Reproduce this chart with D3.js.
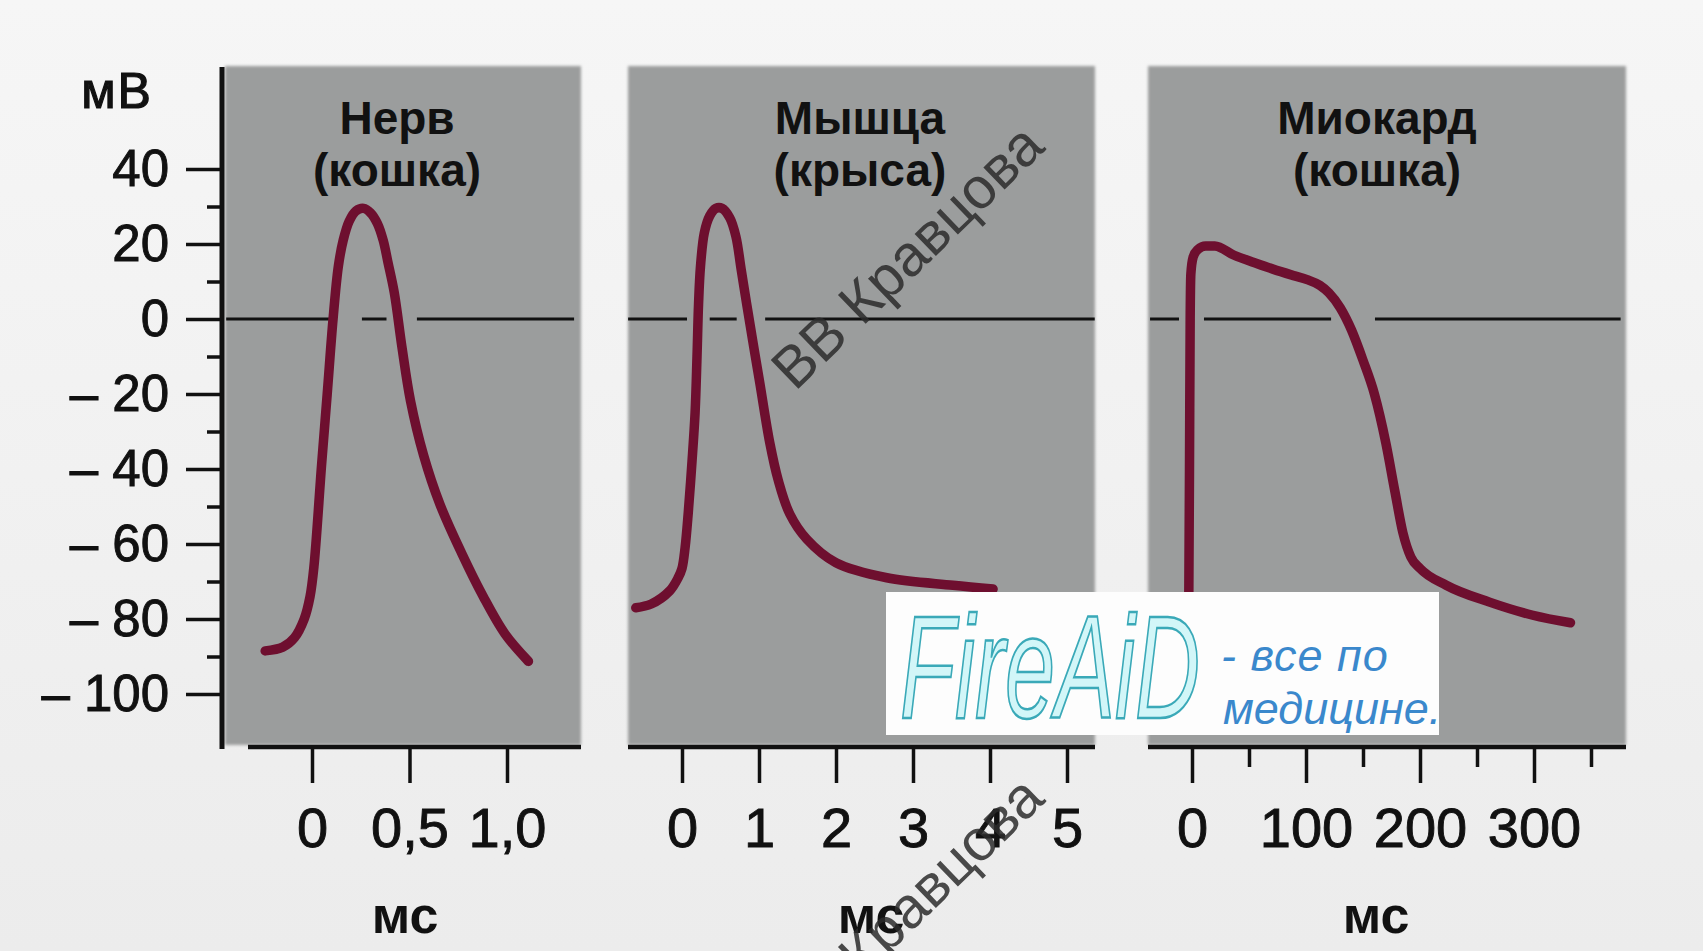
<!DOCTYPE html>
<html><head><meta charset="utf-8">
<script src="https://cdn.jsdelivr.net/npm/d3@7"></script>
<style>html,body{margin:0;padding:0;background:#f0f0f0;} svg{display:block}</style>
</head><body><svg id="c" width="1703" height="951"></svg>
<script>
// ---------------- DATA ----------------
const yTicks = [40, 20, 0, -20, -40, -60, -80, -100];
const yMinorTicks = [30, 10, -10, -30, -50, -70, -90];
const yUnit = "мВ";
const xUnit = "мс";

const panelTitles = [["Нерв", "(кошка)"], ["Мышца", "(крыса)"], ["Миокард", "(кошка)"]];

// Nerve (cat): time in ms, membrane potential in mV
const nerveT = [-0.24, -0.15, -0.09, -0.04, -0.01, 0.01, 0.049, 0.078, 0.108, 0.135, 0.16, 0.19, 0.225, 0.265, 0.30, 0.335, 0.365, 0.39, 0.422, 0.461, 0.505, 0.572, 0.656, 0.767, 0.878, 0.99, 1.11];
const nerveV = [-88.5, -87.5, -85, -80, -74, -66, -39, -20, 0, 14, 21, 26, 28.8, 29.5, 28.3, 25.5, 21, 15, 7, -7.4, -21.8, -36.3, -49.4, -62.4, -74, -84, -91.3];

// Skeletal muscle (rat)
const muscleT = [-0.6, -0.4, -0.16, -0.05, 0.0, 0.04, 0.08, 0.13, 0.17, 0.195, 0.215, 0.24, 0.29, 0.36, 0.44, 0.52, 0.62, 0.70, 0.77, 0.84, 0.92, 1.01, 1.14, 1.25, 1.4, 1.62, 2.0, 2.66, 3.52, 4.04];
const muscleV = [-77, -76, -72.5, -69, -66.5, -61, -52, -38, -25, -10, 4, 14, 23, 27.5, 29.5, 29.5, 27, 22, 13, 4, -6, -17, -33, -43, -52, -58.7, -65, -69, -71, -72];

// Myocardium (cat)
const myoT = [-3, -2.2, -1.6, -1, 1, 5, 12, 20, 37, 55, 71, 90, 101, 112, 120, 130, 140, 150, 160, 170, 178, 185, 192, 200, 223, 261, 299, 332];
const myoV = [-85, -40, 0, 12, 16.5, 18.5, 19.5, 19.5, 17, 15, 13.3, 11.5, 10.5, 9, 7, 3, -3, -11, -20, -33, -46, -57, -63.5, -66.5, -71, -75.5, -79, -81];

// x tick values and labels
const nerveTicks = [0, 0.5, 1.0];
const nerveTickLabels = ["0", "0,5", "1,0"];
const muscleTicks = [0, 1, 2, 3, 4, 5];
const muscleTickLabels = ["0", "1", "2", "3", "4", "5"];
const myoTicks = [0, 100, 200, 300];
const myoTickLabels = ["0", "100", "200", "300"];
const myoMinorTicks = [50, 150, 250, 350];

// zero (0 mV) reference line pieces, in ms
const nerveZero = [[-0.44, 0.087], [0.256, 0.382], [0.538, 1.344]];
const muscleZero = [[-0.70, 0.065], [0.36, 0.71], [1.08, 5.36]];
const myoZero = [[-36.8, -11.4], [10.5, 122], [160.5, 376]];

const watermark = "ВВ Кравцова";
const logoMain = "FireAiD";
const logoLine1 = "- все по";
const logoLine2 = "медицине.";

// ---------------- LAYOUT ----------------
const svg = d3.select("#c");
const FONT = "'Liberation Sans', Arial, sans-serif";
const curveColor = "#6e0f2f";
const panelFill = "#9b9d9d";
const panelTop = 66, panelBottom = 745, axisY = 747;

const y = d3.scaleLinear().domain([-100, 40]).range([694, 169]);

const panels = [
  {t: nerveT, v: nerveV, zero: nerveZero, ticks: nerveTicks, labels: nerveTickLabels, minor: [],
   x: d3.scaleLinear().domain([0, 1]).range([312, 507]), rect: [225, 581], axis: [248, 581], title: panelTitles[0], tcx: 397, ucx: 405,
   curve: d3.curveCatmullRom.alpha(0.5)},
  {t: muscleT, v: muscleV, zero: muscleZero, ticks: muscleTicks, labels: muscleTickLabels, minor: [],
   x: d3.scaleLinear().domain([0, 5]).range([682, 1067]), rect: [628, 1095], axis: [628, 1095], title: panelTitles[1], tcx: 860, ucx: 871,
   curve: d3.curveCatmullRom.alpha(0.5)},
  {t: myoT, v: myoV, zero: myoZero, ticks: myoTicks, labels: myoTickLabels, minor: myoMinorTicks,
   x: d3.scaleLinear().domain([0, 300]).range([1192, 1534]), rect: [1148, 1626], axis: [1148, 1626], title: panelTitles[2], tcx: 1377, ucx: 1376,
   curve: d3.curveMonotoneX}
];

const defs = svg.append("defs");
defs.append("filter").attr("id", "soft").append("feGaussianBlur").attr("stdDeviation", 1.6);
const grad = defs.append("linearGradient").attr("id", "bg").attr("x1", 0).attr("y1", 0).attr("x2", 0).attr("y2", 1);
grad.append("stop").attr("offset", "0").attr("stop-color", "#f6f6f6");
grad.append("stop").attr("offset", "1").attr("stop-color", "#ececec");

// background
svg.append("rect").attr("width", 1703).attr("height", 951).attr("fill", "url(#bg)");

// panels
const gp = svg.append("g").attr("filter", "url(#soft)");
panels.forEach(p => {
  gp.append("rect").attr("x", p.rect[0]).attr("y", panelTop)
    .attr("width", p.rect[1] - p.rect[0]).attr("height", panelBottom - panelTop)
    .attr("fill", panelFill);
});

panels.forEach(p => {
  const g = svg.append("g");
  // zero line pieces
  p.zero.forEach(s => {
    g.append("line").attr("x1", p.x(s[0])).attr("x2", p.x(s[1]))
      .attr("y1", y(0)).attr("y2", y(0)).attr("stroke", "#111").attr("stroke-width", 3);
  });
  // title
  const tt = g.append("text").attr("text-anchor", "middle").attr("font-family", FONT)
    .attr("font-weight", "bold").attr("font-size", 46).attr("fill", "#111");
  tt.append("tspan").attr("x", p.tcx).attr("y", 134).text(p.title[0]);
  tt.append("tspan").attr("x", p.tcx).attr("y", 186).text(p.title[1]);
  // curve
  const pts = p.t.map((t, i) => [t, p.v[i]]);
  g.append("path").datum(pts)
    .attr("d", d3.line().x(d => p.x(d[0])).y(d => y(d[1])).curve(p.curve))
    .attr("fill", "none").attr("stroke", curveColor).attr("stroke-width", 9.5)
    .attr("stroke-linecap", "round").attr("stroke-linejoin", "round");
  // x axis
  const ax = g.append("g").attr("transform", `translate(0,${axisY})`)
    .call(d3.axisBottom(p.x).tickValues(p.ticks).tickSize(36).tickPadding(24)
      .tickFormat((d, i) => p.labels[i]));
  ax.select(".domain").remove();
  ax.selectAll(".tick line").attr("stroke", "#111").attr("stroke-width", 3.5);
  ax.selectAll(".tick text").attr("font-family", FONT).attr("font-size", 56).attr("fill", "#111")
    .attr("stroke", "#111").attr("stroke-width", 0.9);
  if (p.minor.length) {
    const am = g.append("g").attr("transform", `translate(0,${axisY})`)
      .call(d3.axisBottom(p.x).tickValues(p.minor).tickSize(20).tickFormat(""));
    am.select(".domain").remove();
    am.selectAll(".tick line").attr("stroke", "#111").attr("stroke-width", 3.5);
  }
  g.append("line").attr("x1", p.axis[0]).attr("x2", p.axis[1]).attr("y1", axisY).attr("y2", axisY)
    .attr("stroke", "#111").attr("stroke-width", 4.5);
  // unit
  g.append("text").attr("x", p.ucx).attr("y", 933).attr("text-anchor", "middle")
    .attr("font-family", FONT).attr("font-weight", "bold").attr("font-size", 52).attr("fill", "#111")
    .text(xUnit);
});

// y axis
const fmtY = d => d < 0 ? "\u2013 " + Math.abs(d) : String(d);
const ya = svg.append("g").attr("transform", "translate(222,0)")
  .call(d3.axisLeft(y).tickValues(yTicks).tickSize(36).tickPadding(17).tickFormat(fmtY));
ya.select(".domain").remove();
ya.selectAll(".tick line").attr("stroke", "#111").attr("stroke-width", 3.5);
ya.selectAll(".tick text").attr("font-family", FONT).attr("font-size", 51).attr("fill", "#111")
  .attr("stroke", "#111").attr("stroke-width", 0.9);
const yam = svg.append("g").attr("transform", "translate(222,0)")
  .call(d3.axisLeft(y).tickValues(yMinorTicks).tickSize(15).tickFormat(""));
yam.select(".domain").remove();
yam.selectAll(".tick line").attr("stroke", "#111").attr("stroke-width", 3.5);
svg.append("line").attr("x1", 222).attr("x2", 222).attr("y1", 67).attr("y2", 749)
  .attr("stroke", "#111").attr("stroke-width", 5);
svg.append("text").attr("x", 117).attr("y", 108).attr("text-anchor", "middle")
  .attr("font-family", FONT).attr("font-size", 50).attr("letter-spacing", 2).attr("fill", "#111")
  .attr("stroke", "#111").attr("stroke-width", 1.2).text(yUnit);

// logo box
const lg = svg.append("g");
lg.append("rect").attr("x", 886).attr("y", 592).attr("width", 553).attr("height", 143).attr("fill", "#fdfdfd");
lg.append("text").attr("x", 900).attr("y", 718).attr("font-family", FONT).attr("font-style", "italic")
  .attr("font-size", 146).attr("textLength", 300).attr("lengthAdjust", "spacingAndGlyphs")
  .attr("fill", "#d2f6f8").attr("stroke", "#3aa9b8").attr("stroke-width", 2.5).text(logoMain);
lg.append("text").attr("x", 1221).attr("y", 671).attr("font-family", FONT).attr("font-style", "italic")
  .attr("font-size", 45).attr("letter-spacing", 1).attr("fill", "#3a88cc").text(logoLine1);
lg.append("text").attr("x", 1223).attr("y", 724).attr("font-family", FONT).attr("font-style", "italic")
  .attr("font-size", 45).attr("fill", "#3a88cc").text(logoLine2);

// watermarks
[[795, 392], [795, 1044]].forEach(pos => {
  svg.append("text").attr("transform", `translate(${pos[0]},${pos[1]}) rotate(-44)`)
    .attr("font-family", FONT).attr("font-size", 58).attr("fill", "#2b2b2b").attr("fill-opacity", 0.85)
    .text(watermark);
});
</script></body></html>
